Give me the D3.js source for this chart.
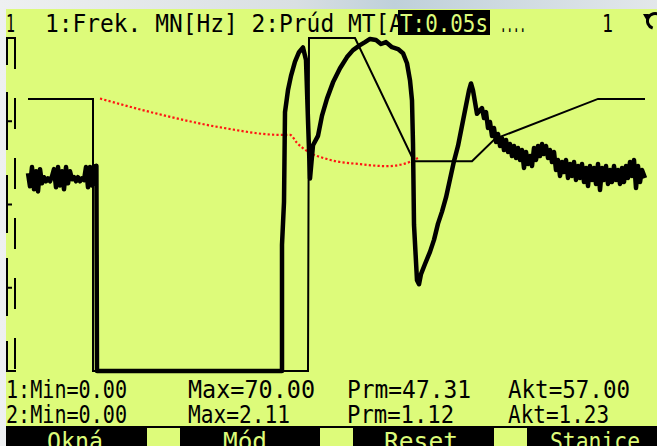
<!DOCTYPE html>
<html>
<head>
<meta charset="utf-8">
<script src="https://cdn.jsdelivr.net/npm/d3@7"></script>
<style>
  body { margin: 0; background: #e6eaec; }
  svg { display: block; }
</style>
</head>
<body>
<div id="chart"></div>
<script>
// Series 1: frequency MN [Hz], [time s, value]
const freqSeries = [
  [0, 57.2], [3.25, 57.2], [3.25, 0], [14.0, 0], [14.05, 70], [16.35, 70],
  [19.3, 44.1], [22.2, 44.1], [23.35, 48.8], [28.5, 57.2], [30.85, 57.2]
];

// Series 2: current MT [A], [time s, value]
const currentSeries = [
  [0, 1.253], [0.1, 1.170], [0.2, 1.292], [0.3, 1.151], [0.4, 1.266], [0.5, 1.138],
  [0.6, 1.279], [0.7, 1.189], [0.8, 1.228], [0.9, 1.202], [1.0, 1.221], [1.1, 1.202],
  [1.2, 1.234], [1.3, 1.279], [1.4, 1.164], [1.5, 1.292], [1.6, 1.176], [1.7, 1.266],
  [1.8, 1.151], [1.9, 1.292], [2.0, 1.189], [2.1, 1.266], [2.2, 1.215], [2.3, 1.228],
  [2.4, 1.202], [2.5, 1.228], [2.6, 1.202], [2.7, 1.221], [2.8, 1.209], [2.9, 1.292],
  [3.0, 1.164], [3.1, 1.292], [3.2, 1.176], [3.3, 1.298], [3.4, 1.266], [3.42, 1.30],
  [3.45, 0], [12.7, 0], [12.7, 0.80], [12.8, 1.07], [12.85, 1.64], [13.0, 1.78],
  [13.15, 1.87], [13.35, 1.96], [13.55, 2.02], [13.75, 2.05], [13.9, 1.97], [14.0, 1.59],
  [14.1, 1.22], [14.25, 1.43], [14.5, 1.49], [14.7, 1.618], [14.95, 1.726], [15.25, 1.829],
  [15.6, 1.918], [15.95, 1.989], [16.25, 2.033], [16.6, 2.065], [16.85, 2.084], [17.1, 2.104],
  [17.4, 2.097], [17.65, 2.072], [17.9, 2.084], [18.2, 2.052], [18.5, 2.040], [18.75, 2.014],
  [18.95, 1.950], [19.1, 1.842], [19.2, 1.714], [19.25, 1.439], [19.3, 0.927], [19.45, 0.575],
  [19.55, 0.550], [19.65, 0.614], [19.85, 0.678], [20.1, 0.755], [20.3, 0.831], [20.5, 0.934],
  [20.7, 1.010], [20.9, 1.100], [21.1, 1.215], [21.3, 1.330], [21.5, 1.426], [21.7, 1.554],
  [21.9, 1.682], [22.05, 1.778], [22.15, 1.822], [22.25, 1.778], [22.45, 1.630],
  [22.7, 1.666], [22.8, 1.603], [22.9, 1.641], [23.0, 1.540], [23.1, 1.578], [23.2, 1.489],
  [23.3, 1.540], [23.4, 1.451], [23.5, 1.502], [23.6, 1.426], [23.7, 1.476], [23.8, 1.400],
  [23.9, 1.464], [24.0, 1.388], [24.1, 1.438], [24.2, 1.362], [24.3, 1.426], [24.4, 1.350],
  [24.5, 1.413], [24.6, 1.337], [24.7, 1.400], [24.8, 1.286], [24.9, 1.388], [25.0, 1.312],
  [25.1, 1.362], [25.2, 1.299], [25.3, 1.413], [25.4, 1.337], [25.5, 1.426], [25.6, 1.362],
  [25.7, 1.438], [25.8, 1.375], [25.9, 1.426], [26.0, 1.350], [26.1, 1.400], [26.2, 1.324],
  [26.3, 1.388], [26.4, 1.274], [26.5, 1.337], [26.6, 1.236], [26.7, 1.324], [26.8, 1.261],
  [26.9, 1.337], [27.0, 1.223], [27.1, 1.312], [27.2, 1.236], [27.3, 1.324], [27.4, 1.210],
  [27.5, 1.299], [27.6, 1.223], [27.7, 1.312], [27.8, 1.197], [27.9, 1.286], [28.0, 1.172],
  [28.1, 1.299], [28.2, 1.210], [28.3, 1.286], [28.4, 1.185], [28.5, 1.312], [28.6, 1.147],
  [28.7, 1.286], [28.8, 1.210], [28.9, 1.299], [29.0, 1.185], [29.1, 1.274], [29.2, 1.197],
  [29.3, 1.299], [29.4, 1.210], [29.5, 1.274], [29.6, 1.185], [29.7, 1.286], [29.8, 1.197],
  [29.9, 1.299], [30.0, 1.223], [30.1, 1.324], [30.2, 1.236], [30.3, 1.337], [30.4, 1.159],
  [30.5, 1.299], [30.6, 1.197], [30.7, 1.274], [30.85, 1.223]
];

// Red dotted trace (in Hz units)
const refSeries = [
  [3.6, 57.27], [6.45, 54.09], [9.75, 51.12], [12.6, 49.64], [13.1, 49.64], [13.45, 47.94],
  [13.95, 46.24], [14.95, 44.55], [16.6, 43.48], [17.95, 43.06], [18.75, 43.48], [19.5, 44.76]
];

const headerTitle = '1:Frek. MN[Hz] 2:Prúd MT[A';
const headerTime = 'T:0.05s';
const statRow1 = ['1:Min=0.00', 'Max=70.00', 'Prm=47.31', 'Akt=57.00'];
const statRow2 = ['2:Min=0.00', 'Max=2.11', 'Prm=1.12', 'Akt=1.23'];
const menuLabels = ['Okná', 'Mód', 'Reset', 'Stanice'];

const width = 657, height = 446;
const lcd = '#ddfb7a';
const font = "'DejaVu Sans Mono', monospace";

const svg = d3.select('#chart').append('svg')
  .attr('width', width)
  .attr('height', height);

// Photo background round the display
const defs = svg.append('defs');
const bg = defs.append('linearGradient').attr('id', 'bg').attr('x1', 0).attr('x2', 1);
bg.append('stop').attr('offset', '0%').attr('stop-color', '#eef0f1');
bg.append('stop').attr('offset', '45%').attr('stop-color', '#d9dfe3');
bg.append('stop').attr('offset', '60%').attr('stop-color', '#bfd0da');
bg.append('stop').attr('offset', '100%').attr('stop-color', '#e3e7ea');
svg.append('rect').attr('width', width).attr('height', height).attr('fill', 'url(#bg)');

// LCD panel
svg.append('rect')
  .attr('x', 6).attr('y', 9)
  .attr('width', width - 6).attr('height', height - 9)
  .attr('fill', lcd);

// Scales
const x = d3.scaleLinear().domain([0, 30.85]).range([28, 645]);
const yFreq = d3.scaleLinear().domain([0, 70]).range([371, 38]);
const yCur = d3.scaleLinear().domain([0, 2.11]).range([371, 38]);

// Left axis (dashed double rail with quarter ticks)
const axis = svg.append('g').attr('stroke', '#000').attr('stroke-width', 2).attr('fill', 'none');
axis.append('line')
  .attr('x1', 7).attr('x2', 7)
  .attr('y1', yFreq(70)).attr('y2', yFreq(0))
  .attr('stroke-dasharray', '27,27,58,25,58,25,58,25,58,25');
axis.append('line')
  .attr('x1', 15).attr('x2', 15)
  .attr('y1', yFreq(70)).attr('y2', yFreq(0))
  .attr('stroke-dasharray', '31,29');
[70, 0].forEach(v => {
  axis.append('line')
    .attr('x1', 6).attr('x2', 16)
    .attr('y1', yFreq(v)).attr('y2', yFreq(v));
});
[17.5, 35, 52.5].forEach(v => {
  axis.append('line')
    .attr('x1', 6).attr('x2', 12)
    .attr('y1', yFreq(v)).attr('y2', yFreq(v));
});

// Red dotted trace
svg.append('path')
  .datum(refSeries)
  .attr('fill', 'none')
  .attr('stroke', '#ff1414')
  .attr('stroke-width', 2.2)
  .attr('stroke-dasharray', '2.2,2.2')
  .attr('d', d3.line().x(d => x(d[0])).y(d => yFreq(d[1])).curve(d3.curveMonotoneX));

// Series 1 thin line
svg.append('path')
  .datum(freqSeries)
  .attr('fill', 'none')
  .attr('stroke', '#000')
  .attr('stroke-width', 2)
  .attr('d', d3.line().x(d => x(d[0])).y(d => yFreq(d[1])));

// Series 2 thick line
svg.append('path')
  .datum(currentSeries)
  .attr('fill', 'none')
  .attr('stroke', '#000')
  .attr('stroke-width', 4.5)
  .attr('stroke-linejoin', 'round')
  .attr('d', d3.line().x(d => x(d[0])).y(d => yCur(d[1])));

// Header
const header = svg.append('g')
  .attr('font-family', font)
  .attr('font-size', 25)
  .attr('fill', '#000');
header.append('text').attr('x', 6).attr('y', 32).attr('textLength', 9)
  .attr('lengthAdjust', 'spacingAndGlyphs').text('1');
header.append('text').attr('x', 45).attr('y', 32).attr('textLength', 358)
  .attr('lengthAdjust', 'spacingAndGlyphs').text(headerTitle);
header.append('rect').attr('x', 398).attr('y', 10).attr('width', 92).attr('height', 25).attr('fill', '#000');
header.append('text').attr('x', 400).attr('y', 32).attr('textLength', 88)
  .attr('lengthAdjust', 'spacingAndGlyphs').attr('fill', lcd).text(headerTime);
header.append('text').attr('x', 500).attr('y', 32).attr('textLength', 26)
  .attr('lengthAdjust', 'spacingAndGlyphs').text('....');
header.append('text').attr('x', 602).attr('y', 32).attr('textLength', 11)
  .attr('lengthAdjust', 'spacingAndGlyphs').text('1');
// status icon, clipped by the right edge
header.append('path')
  .attr('d', d3.arc()({ innerRadius: 6, outerRadius: 9, startAngle: -Math.PI * 0.9, endAngle: Math.PI * 0.75 }))
  .attr('transform', 'translate(655,21)');
header.append('path')
  .attr('d', 'M643,14 l6,0 l-2,7 z')
  .attr('fill', '#000');

// Statistics rows
const statX = [6, 188, 347, 508];
const statW1 = [121, 127, 124, 122];
const statW2 = [121, 102, 107, 101];
const stats = svg.append('g')
  .attr('font-family', font)
  .attr('font-size', 24)
  .attr('fill', '#000');
statRow1.forEach((s, i) => {
  stats.append('text').attr('x', statX[i]).attr('y', 398)
    .attr('textLength', statW1[i]).attr('lengthAdjust', 'spacingAndGlyphs').text(s);
});
statRow2.forEach((s, i) => {
  stats.append('text').attr('x', statX[i]).attr('y', 423)
    .attr('textLength', statW2[i]).attr('lengthAdjust', 'spacingAndGlyphs').text(s);
});

// Soft-key menu bar
svg.append('rect').attr('x', 6).attr('y', 426).attr('width', width - 6).attr('height', 20).attr('fill', '#000');
const boxX = [147, 320, 494];
boxX.forEach(bx => {
  svg.append('rect').attr('x', bx).attr('y', 428).attr('width', 33).attr('height', 18).attr('fill', lcd);
});
const menuX = [47, 223, 384, 550];
const menuW = [56, 44, 74, 90];
const menu = svg.append('g')
  .attr('font-family', font)
  .attr('font-size', 25)
  .attr('fill', lcd);
menuLabels.forEach((s, i) => {
  menu.append('text').attr('x', menuX[i]).attr('y', 450)
    .attr('textLength', menuW[i]).attr('lengthAdjust', 'spacingAndGlyphs').text(s);
});
</script>
</body>
</html>
